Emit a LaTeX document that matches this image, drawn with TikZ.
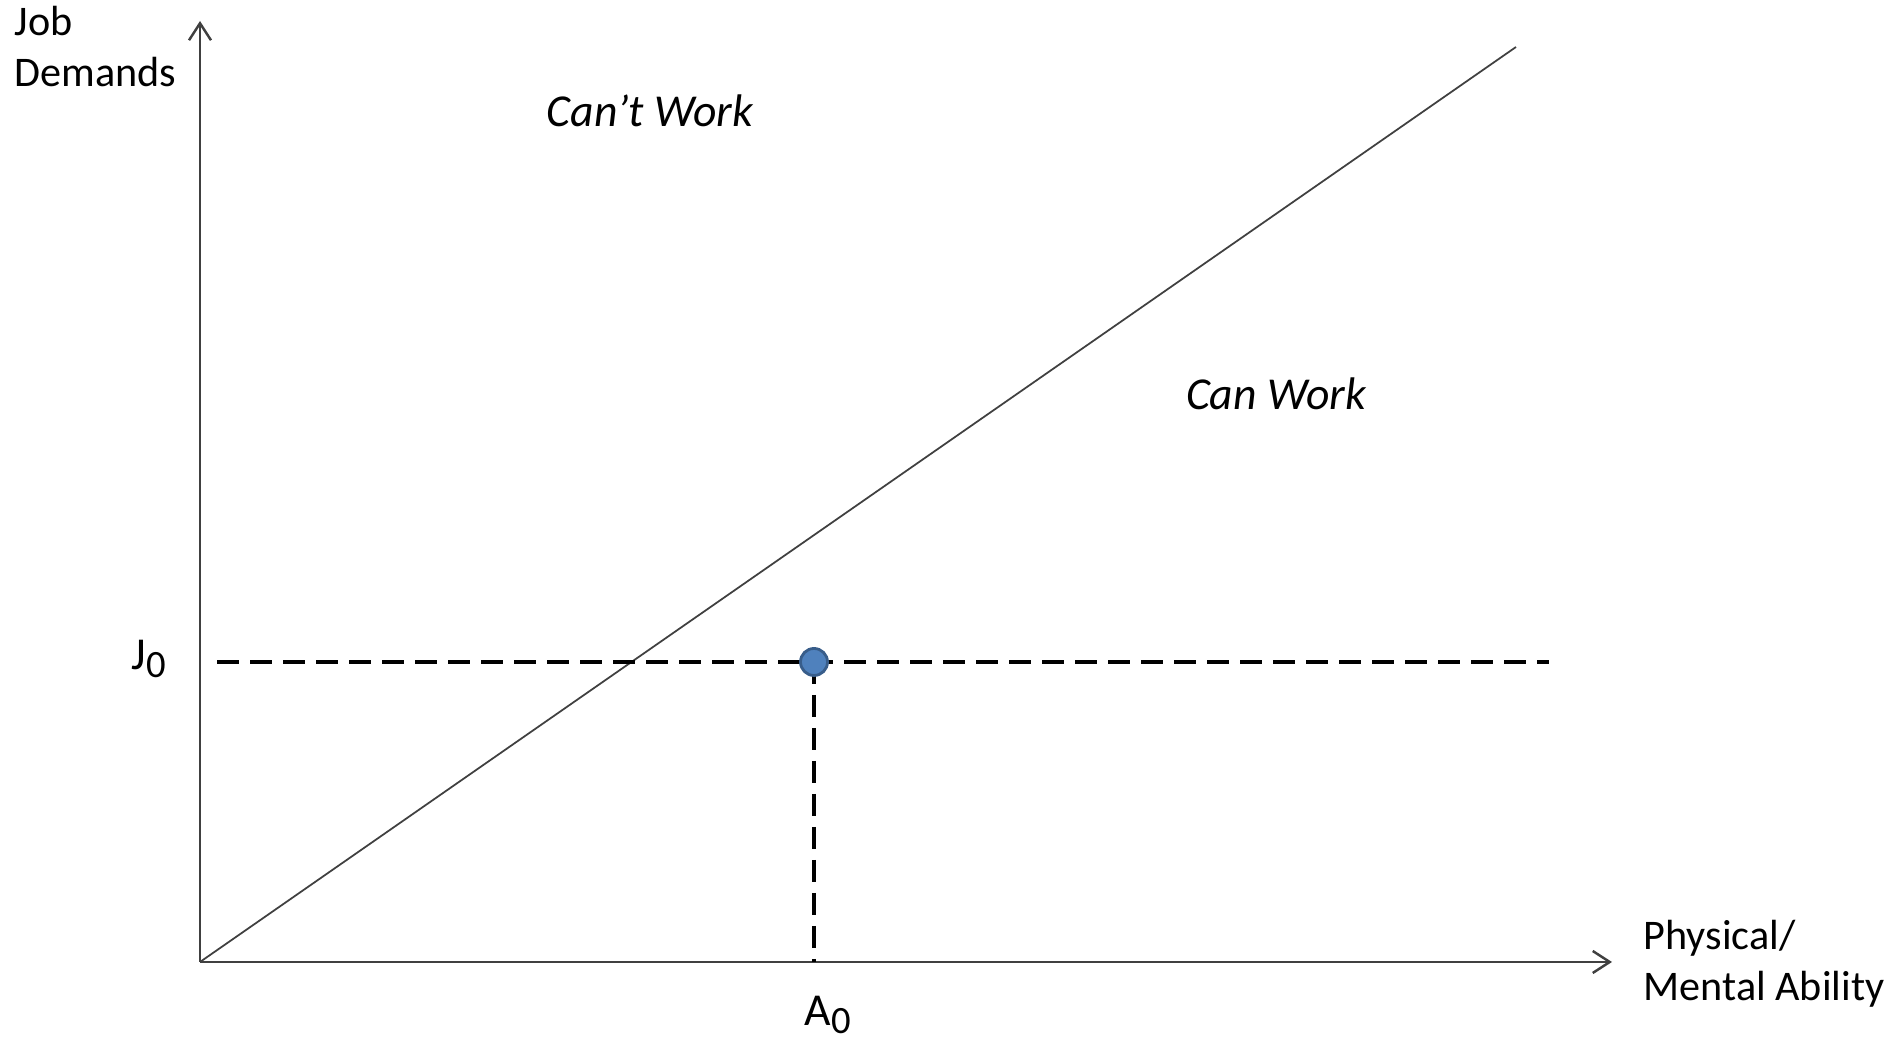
\documentclass[tikz,border=0pt]{standalone}
\usepackage{fontspec}
\setmainfont{Carlito}
\usetikzlibrary{arrows.meta}
\definecolor{Dot}{HTML}{4F81BD}
\definecolor{DotEdge}{HTML}{385D8A}
\definecolor{Axis}{HTML}{404040}
\newcommand{\lowsub}[1]{\raisebox{-2.2pt}{\fontsize{11}{11}\selectfont #1}}

\begin{document}
\begin{tikzpicture}
      \useasboundingbox (0,0) rectangle (18.93,10.40);
      \tikzset{
        axis/.style={Axis,line width=0.7pt,-{Straight Barb[length=1.7mm,width=2.2mm]}},
        limit/.style={Axis,line width=0.5pt},
        level/.style={black,line width=1.4pt,dash pattern=on 0.22cm off 0.11cm},
        dot/.style={circle,fill=Dot,draw=DotEdge,line width=0.8pt,minimum size=0.27cm,inner sep=0pt},
        lbl/.style={font=\fontsize{12}{14.6}\selectfont,inner sep=0pt},
        region/.style={font=\fontsize{13}{15.6}\selectfont\itshape,inner sep=0pt}
      }
      \coordinate (O) at (2.00,0.78);
      \coordinate (ytop) at (2.00,10.19);
      \coordinate (xend) at (16.12,0.78);
      \coordinate (diagend) at (15.16,9.93);
      \coordinate (jstart) at (2.17,3.78);
      \coordinate (jend) at (15.49,3.78);
      \draw[axis] (O) -- (ytop);
      \draw[axis] (O) -- (xend);
      \draw[limit] (O) -- (diagend);
      \coordinate (pt) at (8.14,3.78);
      \draw[level] (jstart) -- (jend);
      \draw[level] (pt) -- (pt |- O);
      \node[dot] (ptdot) at (pt) {};
      \node[lbl,align=left,anchor=base west] (jd) at (0.14,9.53) {Job\\Demands};
      \node[lbl,align=left,anchor=base west] (pm) at (16.43,0.39) {Physical/\\Mental Ability};
      \node[lbl,font=\fontsize{13}{15}\selectfont,anchor=base] (j0) at (1.49,3.70) {J\lowsub{0}};
      \node[lbl,font=\fontsize{13}{15}\selectfont,anchor=base] (a0) at (8.28,0.14) {A\lowsub{0}};
      \node[region] (cant) at (6.50,9.29) {Can’t Work};
      \node[region] (can) at (12.76,6.46) {Can Work};
    \end{tikzpicture}
\end{document}
